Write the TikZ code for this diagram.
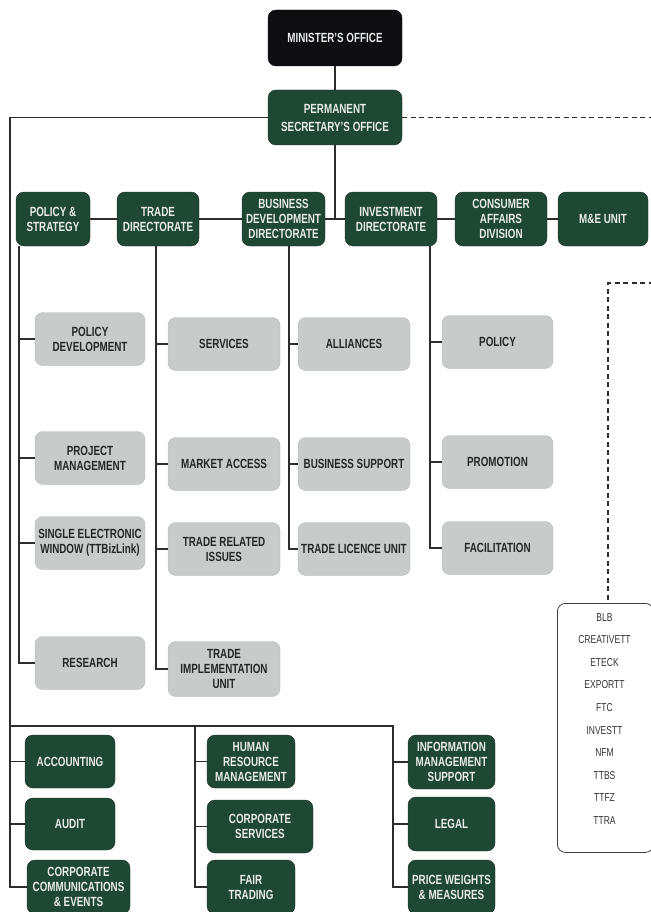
\documentclass[tikz,border=0pt]{standalone}
\usepackage{fontspec}
\setmainfont{Liberation Sans}[FakeStretch=0.74]
\usepackage{tikz}

\definecolor{orgGreen}{RGB}{31,72,52}
\definecolor{orgBlack}{RGB}{14,14,18}
\definecolor{orgGrey}{RGB}{199,204,202}
\definecolor{orgLine}{RGB}{45,45,45}
\definecolor{orgText}{RGB}{232,236,233}

\tikzset{
    box/.style={rounded corners=8pt, align=center, inner sep=1pt,
        font=\bfseries\fontsize{13.3}{15}\selectfont},
    darkbox/.style={box, fill=orgGreen, draw=orgGreen!70!black, text=orgText},
    topbox/.style={box, fill=orgBlack, draw=orgBlack, text=orgText},
    greybox/.style={box, fill=orgGrey, draw=orgGrey!90!black, text=black!85,
        minimum height=53pt},
    listbox/.style={rounded corners=8pt, draw=black!75, line width=0.8pt, fill=white},
    link/.style={draw=orgLine, line width=1.1pt},
    dashlink/.style={draw=orgLine, line width=1.1pt, dash pattern=on 5pt off 3.5pt}
}

\begin{document}
\begin{tikzpicture}[x=1pt, y=-1pt]
            \useasboundingbox[fill=white] (0,0) rectangle (650,912);

            \coordinate (busL) at (10,0);
            \coordinate (busPol) at (19,0);
            \coordinate (busTrade) at (156,0);
            \coordinate (busBdd) at (289,0);
            \coordinate (busInv) at (430,0);
            \coordinate (busM) at (195,0);
            \coordinate (busR) at (393,0);
            \coordinate (rowB) at (0,726);
            \coordinate (offR) at (662,117.5);
            \coordinate (offR2) at (662,283);
            \coordinate (agBend) at (608,283);

            \node[topbox, minimum width=134pt, minimum height=56pt] (min) at (335,38) {MINISTER'S OFFICE};
            \node[darkbox, minimum width=134pt, minimum height=55pt] (ps) at (335,117.5) {PERMANENT\\[3pt]SECRETARY'S OFFICE};

            \node[darkbox, minimum width=74pt, minimum height=54pt] (dPol) at (53,219) {POLICY \&\\STRATEGY};
            \node[darkbox, minimum width=82pt, minimum height=54pt] (dTrade) at (158,219) {TRADE\\DIRECTORATE};
            \node[darkbox, minimum width=83pt, minimum height=54pt] (dBdd) at (283.5,219) {BUSINESS\\DEVELOPMENT\\DIRECTORATE};
            \node[darkbox, minimum width=92pt, minimum height=54pt] (dInv) at (391,219) {INVESTMENT\\DIRECTORATE};
            \node[darkbox, minimum width=92pt, minimum height=54pt] (dCons) at (501,219) {CONSUMER\\AFFAIRS\\DIVISION};
            \node[darkbox, minimum width=90pt, minimum height=54pt] (dMe) at (603,219) {M\&E UNIT};

            \node[greybox, minimum width=110pt] (sPD) at (90,339) {POLICY\\DEVELOPMENT};
            \node[greybox, minimum width=110pt] (sPM) at (90,458) {PROJECT\\MANAGEMENT};
            \node[greybox, minimum width=110pt] (sSew) at (90,543) {SINGLE ELECTRONIC\\WINDOW (TTBizLink)};
            \node[greybox, minimum width=110pt] (sRes) at (90,663) {RESEARCH};

            \node[greybox, minimum width=112pt] (sSvc) at (224,344) {SERVICES};
            \node[greybox, minimum width=112pt] (sMa) at (224,464) {MARKET ACCESS};
            \node[greybox, minimum width=112pt] (sTri) at (224,549) {TRADE RELATED\\ISSUES};
            \node[greybox, minimum width=112pt, minimum height=55pt] (sTiu) at (224,669) {TRADE\\IMPLEMENTATION\\UNIT};

            \node[greybox, minimum width=112pt] (sAll) at (354,344) {ALLIANCES};
            \node[greybox, minimum width=112pt] (sBs) at (354,464) {BUSINESS SUPPORT};
            \node[greybox, minimum width=112pt] (sTlu) at (354,549) {TRADE LICENCE UNIT};

            \node[greybox, minimum width=111pt] (sPolicy) at (497.5,342) {POLICY};
            \node[greybox, minimum width=111pt] (sPro) at (497.5,462) {PROMOTION};
            \node[greybox, minimum width=111pt] (sFac) at (497.5,548) {FACILITATION};

            \node[darkbox, minimum width=90pt, minimum height=53pt] (acc) at (70,761.5) {ACCOUNTING};
            \node[darkbox, minimum width=90pt, minimum height=52pt] (aud) at (70,824) {AUDIT};
            \node[darkbox, minimum width=103pt, minimum height=54pt] (ccm) at (78.5,887) {CORPORATE\\COMMUNICATIONS\\\& EVENTS};
            \node[darkbox, minimum width=88pt, minimum height=53pt] (hrm) at (251,761.5) {HUMAN\\RESOURCE\\MANAGEMENT};
            \node[darkbox, minimum width=106pt, minimum height=53pt] (csv) at (260,826.5) {CORPORATE\\SERVICES};
            \node[darkbox, minimum width=88pt, minimum height=54pt] (ftr) at (251,887) {FAIR\\TRADING};
            \node[darkbox, minimum width=87pt, minimum height=54pt] (ims) at (451.5,762) {INFORMATION\\MANAGEMENT\\SUPPORT};
            \node[darkbox, minimum width=87pt, minimum height=54pt] (leg) at (451.5,824) {LEGAL};
            \node[darkbox, minimum width=87pt, minimum height=54pt] (pwm) at (451.5,887) {PRICE WEIGHTS\\\& MEASURES};

            \node[listbox, minimum width=96pt, minimum height=249pt, anchor=north west] (agBox) at (557,603) {};
            \node[anchor=north, align=center, inner sep=0pt, text=black!80,
                font=\fontsize{11.5}{22.6}\selectfont] (agList) at (604.5,613)
                {BLB\\CREATIVETT\\ETECK\\EXPORTT\\FTC\\INVESTT\\NFM\\TTBS\\TTFZ\\TTRA};

            \draw[link] (min) -- (ps);
            \draw[link] (ps.south) -- (ps.south |- dInv.west);
            \draw[link] (dPol) -- (dTrade) -- (dBdd) -- (dInv) -- (dCons) -- (dMe);
            \draw[dashlink] (ps.east) -- (offR);
            \draw[dashlink] (offR2) -- (agBend) -- (agBend |- agBox.north);

            \draw[link] (ps.west) -- (ps.west -| busL) -- (ccm.west -| busL) -- (ccm.west);
            \draw[link] (dPol.south -| busPol) -- (sRes.west -| busPol) -- (sRes.west);
            \draw[link] (dTrade.south -| busTrade) -- (sTiu.west -| busTrade) -- (sTiu.west);
            \draw[link] (dBdd.south -| busBdd) -- (sTlu.west -| busBdd) -- (sTlu.west);
            \draw[link] (dInv.south -| busInv) -- (sFac.west -| busInv) -- (sFac.west);
            \draw[link] (sPD.west -| busPol) -- (sPD.west) (sPM.west -| busPol) -- (sPM.west) (sSew.west -| busPol) -- (sSew.west);
            \draw[link] (sSvc.west -| busTrade) -- (sSvc.west) (sMa.west -| busTrade) -- (sMa.west) (sTri.west -| busTrade) -- (sTri.west);
            \draw[link] (sAll.west -| busBdd) -- (sAll.west) (sBs.west -| busBdd) -- (sBs.west);
            \draw[link] (sPolicy.west -| busInv) -- (sPolicy.west) (sPro.west -| busInv) -- (sPro.west);

            \draw[link] (busL |- rowB) -- (busR |- rowB) -- (pwm.west -| busR) -- (pwm.west);
            \draw[link] (busM |- rowB) -- (ftr.west -| busM) -- (ftr.west);
            \draw[link] (acc.west -| busL) -- (acc.west) (aud.west -| busL) -- (aud.west);
            \draw[link] (hrm.west -| busM) -- (hrm.west) (csv.west -| busM) -- (csv.west);
            \draw[link] (ims.west -| busR) -- (ims.west) (leg.west -| busR) -- (leg.west);
        \end{tikzpicture}
\end{document}
